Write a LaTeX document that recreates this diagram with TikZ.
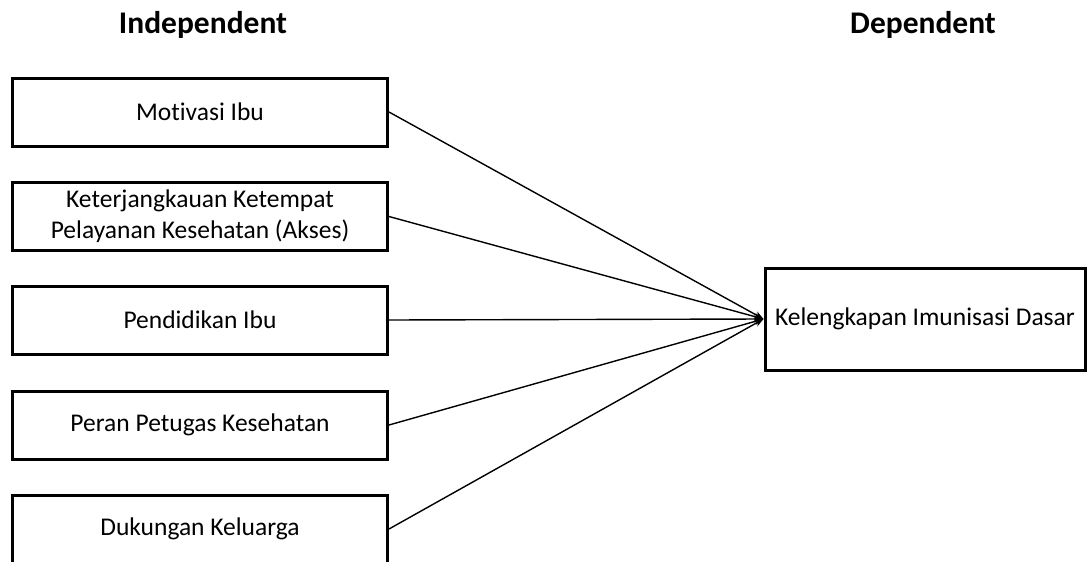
\documentclass[tikz,border=0pt]{standalone}
\usepackage{fontspec}
\setmainfont[Ligatures={NoCommon}]{Carlito}
\usetikzlibrary{arrows.meta}
\begin{document}
\begin{tikzpicture}[x=1pt,y=-1pt,
  varbox/.style={draw=black,line width=3pt,fill=white,minimum width=375pt,minimum height=68pt,inner sep=0pt,align=center,font=\fontsize{25.5}{30}\selectfont},
  depbox/.style={varbox,minimum width=320pt,minimum height=102pt},
  head/.style={font=\fontsize{31.5}{36}\selectfont\bfseries,inner sep=0pt},
  link/.style={line width=1.4pt,-{Stealth[length=9pt,width=7pt]}}]
\clip (0,0) rectangle (1087,562);
\fill[white] (0,0) rectangle (1087,562);
\node[head] (hind) at (203,25) {Independent};
\node[head] (hdep) at (923,25) {Dependent};
\node[varbox] (b1) at (200,112) {Motivasi Ibu};
\node[varbox] (b2) at (200,216.5) {Keterjangkauan Ketempat\\[1pt]Pelayanan Kesehatan (Akses)};
\node[varbox] (b3) at (200,320) {Pendidikan Ibu};
\node[varbox] (b4) at (200,425) {Peran Petugas Kesehatan};
\node[varbox] (b5) at (200,529) {Dukungan Keluarga};
\node[depbox] (dep) at (925,319) {Kelengkapan Imunisasi Dasar};
\foreach \b in {b1,b2,b3,b4,b5}
  \draw[link] (\b.east) -- (dep.west);
\end{tikzpicture}
\end{document}
